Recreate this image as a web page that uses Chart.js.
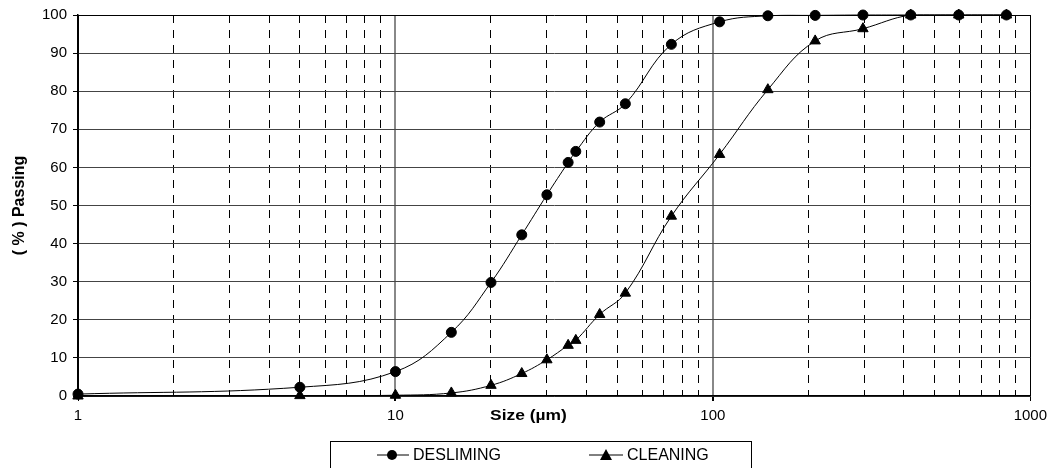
<!DOCTYPE html>
<html lang="en">
<head>
<meta charset="UTF-8">
<title>Size distribution</title>
<script src="https://cdn.jsdelivr.net/npm/chart.js"></script>
<style>
    body { margin: 0; background: #fff; font-family: 'Liberation Sans', Arial, sans-serif; }
    .wrap { position: relative; width: 1053px; height: 468px; overflow: hidden; }
    .legend {
        position: absolute; left: 330px; top: 441px; width: 422px; height: 40px;
        border: 1px solid #000; box-sizing: border-box; font-size: 16px; line-height: 18px; color: #000;
    }
    .legend .item { position: absolute; top: 4px; display: flex; align-items: center; }
    .legend svg { margin-right: 4px; }
</style>
</head>
<body>
<div class="wrap">
    <canvas id="psd" width="1053" height="468"></canvas>
    <div class="legend">
        <div class="item" style="left: 46px;">
            <svg width="32" height="12"><line x1="0" y1="6" x2="32" y2="6" stroke="#000" stroke-width="1"/><circle cx="15" cy="6" r="5" fill="#000"/></svg>
            <span>DESLIMING</span>
        </div>
        <div class="item" style="left: 258px;">
            <svg width="34" height="12"><line x1="0" y1="6" x2="34" y2="6" stroke="#000" stroke-width="1"/><polygon points="17,0 23,11 11,11" fill="#000"/></svg>
            <span>CLEANING</span>
        </div>
    </div>
</div>
<script>
    // Sieve sizes (µm)
    const sizes = [1, 5, 10, 15, 20, 25, 30, 35, 37, 44, 53, 74, 105, 149, 210, 297, 420, 595, 841];
    // Cumulative % passing
    const desliming = [0.5, 2.3, 6.4, 16.7, 29.8, 42.3, 52.8, 61.3, 64.2, 71.9, 76.7, 92.3, 98.2, 99.8, 99.9, 100, 100, 100, 100];
    const cleaning = [0, 0.1, 0.2, 0.8, 2.8, 5.9, 9.5, 13.3, 14.6, 21.4, 27.0, 47.2, 63.4, 80.4, 93.2, 96.4, 100, 100, 100];
    const majorTicks = [1, 10, 100, 1000];

    const isMajor = v => majorTicks.includes(v);
    // keep only 1..9 x 10^n ticks (log scale also makes 15, 150 ...)
    const keepDecadeTicks = scale => {
        scale.ticks = scale.ticks.filter(t => {
            const s = t.value / Math.pow(10, Math.floor(Math.log10(t.value) + 1e-9));
            return Math.abs(s - Math.round(s)) < 1e-6;
        });
    };

    const family = "'Liberation Sans', Arial, sans-serif";
    const font = { family, size: 15 };

    // x title sits on the tick label line, a bit left of centre (text a little wide, like the original)
    const xTitle = {
        id: 'xTitle',
        afterDraw(chart) {
            const { ctx, chartArea } = chart;
            ctx.save();
            ctx.font = 'bold 15px ' + family;
            ctx.fillStyle = '#000';
            ctx.textAlign = 'center';
            ctx.textBaseline = 'middle';
            ctx.translate(chartArea.left + (chartArea.right - chartArea.left) * 0.473, chartArea.bottom + 20);
            ctx.scale(1.16, 1);
            ctx.fillText('Size (µm)', 0, 0);
            ctx.restore();
        }
    };

    new Chart(document.getElementById('psd'), {
        type: 'line',
        data: {
            datasets: [{
                label: 'DESLIMING',
                data: sizes.map((s, i) => ({ x: s, y: desliming[i] })),
                borderColor: '#000',
                backgroundColor: '#000',
                borderWidth: 1,
                pointStyle: 'circle',
                pointRadius: 5,
                tension: 0.4,
                clip: false
            }, {
                label: 'CLEANING',
                data: sizes.map((s, i) => ({ x: s, y: cleaning[i] })),
                borderColor: '#000',
                backgroundColor: '#000',
                borderWidth: 1,
                pointStyle: 'triangle',
                pointRadius: 6,
                tension: 0.4,
                clip: false
            }]
        },
        options: {
            responsive: false,
            devicePixelRatio: 1,
            animation: false,
            layout: { padding: { top: 14, right: 21, left: 0, bottom: 0 } },
            plugins: { legend: { display: false }, tooltip: { enabled: false } },
            scales: {
                x: {
                    type: 'logarithmic',
                    min: 1,
                    max: 1000,
                    afterBuildTicks: keepDecadeTicks,
                    afterFit: s => { s.height = 72; },
                    ticks: {
                        autoSkip: false,
                        maxRotation: 0,
                        padding: 6,
                        color: '#000',
                        font,
                        callback: v => isMajor(v) ? String(v) : ''
                    },
                    grid: {
                        color: c => {
                            const v = c.tick && c.tick.value;
                            if (v === 1 || v === 1000) return '#000';
                            return isMajor(v) ? '#888' : 'rgba(0,0,0,0)';
                        },
                        lineWidth: c => (c.tick && (c.tick.value === 10 || c.tick.value === 100)) ? 2 : 1,
                        tickLength: 5,
                        tickColor: c => isMajor(c.tick && c.tick.value) ? '#000' : 'rgba(0,0,0,0)'
                    },
                    border: { color: '#000', width: 1.5 }
                },
                xMinor: {
                    type: 'logarithmic',
                    position: 'bottom',
                    min: 1,
                    max: 1000,
                    afterBuildTicks: keepDecadeTicks,
                    afterFit: s => { s.height = 0; },
                    ticks: { display: false, autoSkip: false },
                    grid: {
                        drawTicks: false,
                        color: c => isMajor(c.tick && c.tick.value) ? 'rgba(0,0,0,0)' : '#000',
                        lineWidth: 1
                    },
                    border: { display: false, dash: [8, 7] }
                },
                y: {
                    min: 0,
                    max: 100,
                    afterFit: s => { s.width = 78; },
                    ticks: { stepSize: 10, padding: 6, color: '#000', font },
                    grid: {
                        color: c => (c.tick && c.tick.value === 100) ? '#000' : '#444',
                        lineWidth: 1,
                        tickLength: 5,
                        tickColor: '#000'
                    },
                    border: { color: '#000', width: 1.5 },
                    title: {
                        display: true,
                        text: '( % ) Passing',
                        color: '#000',
                        font: { family, size: 16, weight: 'bold' },
                        padding: { top: 10, bottom: 0 }
                    }
                }
            }
        },
        plugins: [xTitle]
    });
</script>
</body>
</html>
